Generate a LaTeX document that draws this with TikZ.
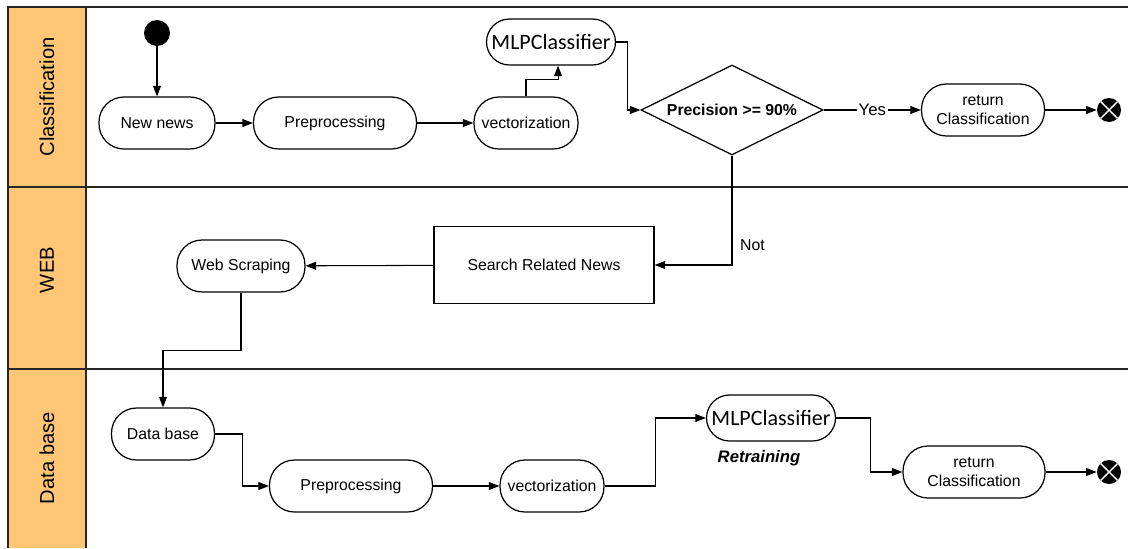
\documentclass[tikz,border=0pt]{standalone}
\usepackage{fontspec}
\setmainfont{Liberation Sans}
\newfontfamily\mlpfont{Carlito}
\usetikzlibrary{arrows.meta,shapes.geometric}
\definecolor{laneorange}{HTML}{FFC676}

\begin{document}
\begin{tikzpicture}[x=0.02cm,y=-0.02cm,
    lane/.style={draw=black!85,line width=0.8pt},
    activity/.style={draw,line width=0.7pt,rounded corners=0.5cm,minimum height=1.04cm,
      align=center,font=\fontsize{9}{11}\selectfont,inner sep=2pt},
    mlp/.style={activity,rounded corners=0.46cm,minimum height=0.92cm,minimum width=2.58cm,
      font=\mlpfont\fontsize{12.5}{14}\selectfont},
    decision/.style={draw,diamond,aspect=2,line width=0.7pt,inner sep=0pt,minimum width=3.64cm,
      minimum height=1.8cm,font=\bfseries\fontsize{9}{11}\selectfont},
    task/.style={draw,line width=0.7pt,minimum width=4.4cm,minimum height=1.54cm,
      font=\fontsize{9}{11}\selectfont},
    initial/.style={circle,fill=black,minimum size=0.52cm,inner sep=0pt},
    final/.style={circle,fill=black,minimum size=0.48cm,inner sep=0pt,
      path picture={\draw[white,line width=0.8pt]
        (path picture bounding box.south west) -- (path picture bounding box.north east)
        (path picture bounding box.north west) -- (path picture bounding box.south east);}},
    flow/.style={-{Triangle[length=6pt,width=4.5pt]},line width=0.6pt},
    lanetext/.style={rotate=90,font=\fontsize{11.5}{13}\selectfont}]
  \useasboundingbox (0,0) rectangle (1128,548);

  % swimlanes
  \fill[laneorange] (8,7) rectangle (86,548);
  \draw[lane] (1128,7) -- (8,7) -- (8,548);
  \draw[lane] (86,7) -- (86,548);
  \draw[lane] (8,187) -- (1128,187);
  \draw[lane] (8,369) -- (1128,369);
  \node[lanetext] (lnclass) at (47,97) {Classification};
  \node[lanetext] (lnweb) at (47,270) {WEB};
  \node[lanetext] (lndb) at (47,458) {Data base};

  % Classification
  \node[initial] (start) at (157,33) {};
  \node[activity,minimum width=2.32cm] (newnews) at (157,123) {New news};
  \node[activity,minimum width=3.26cm] (prep1) at (335,123) {Preprocessing};
  \node[activity,minimum width=2.08cm] (vect1) at (526,123) {vectorization};
  \node[mlp] (mlp1) at (551,42) {MLPClassifier};
  \node[decision] (prec) at (732,110) {Precision >= 90\%};
  \node[activity,minimum width=2.46cm] (ret1) at (983,110) {return\\Classification};
  \node[final] (end1) at (1109,110) {};

  % WEB
  \node[activity,minimum width=2.56cm] (scrap) at (241,266) {Web Scraping};
  \node[task] (search) at (544,265) {Search Related News};

  % Data base
  \node[activity,minimum width=2.06cm] (db) at (163,434) {Data base};
  \node[activity,minimum width=3.26cm] (prep2) at (351,486) {Preprocessing};
  \node[activity,minimum width=2.08cm] (vect2) at (552,486) {vectorization};
  \node[mlp] (mlp2) at (771,418) {MLPClassifier};
  \node[font=\bfseries\itshape\fontsize{9.5}{11}\selectfont] (retrain) at (759,458) {Retraining};
  \node[activity,minimum width=2.84cm] (ret2) at (974,472) {return\\Classification};
  \node[final] (end2) at (1109,472) {};

  \draw[flow] (start) -- (newnews);
  \draw[flow] (newnews) -- (prep1);
  \draw[flow] (prep1) -- (vect1);
  \draw[flow] (vect1.north) -- ++(0,-17) -| ([xshift=4pt]mlp1.south);
  \draw[flow] (mlp1.east) -- ++(11,0) |- (prec.west);
  \draw[flow] (prec.east) -- node[fill=white,inner sep=1pt,font=\fontsize{9.5}{11}\selectfont] (yes) {Yes} (ret1.west);
  \draw[flow] (ret1) -- (end1);
  \draw[flow] (prec.south) |- node[pos=0.41,anchor=west,font=\fontsize{9}{11}\selectfont,xshift=1pt] (no) {Not} (search.east);
  \draw[flow] (search) -- (scrap);
  \draw[flow] (scrap.south) -- ++(0,58) -| (db.north);
  \draw[flow] (db.east) -- ++(27,0) |- (prep2.west);
  \draw[flow] (prep2) -- (vect2);
  \draw[flow] (vect2.east) -- ++(51,0) |- (mlp2.west);
  \draw[flow] (mlp2.east) -- ++(34,0) |- (ret2.west);
  \draw[flow] (ret2) -- (end2);
\end{tikzpicture}
\end{document}
